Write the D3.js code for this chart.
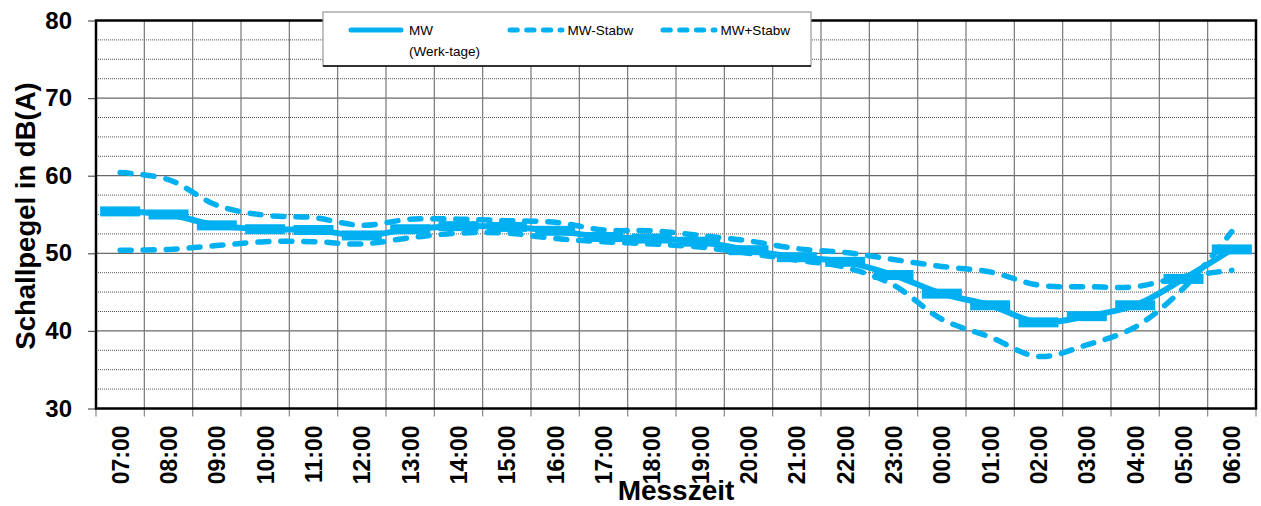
<!DOCTYPE html>
<html>
<head>
<meta charset="utf-8">
<script src="https://cdnjs.cloudflare.com/ajax/libs/d3/7.8.5/d3.min.js"></script>
<style>
  html, body { margin: 0; padding: 0; background: #fff; }
  svg { display: block; font-family: "Liberation Sans", Arial, sans-serif; }
</style>
</head>
<body>
<svg id="chart" width="1261" height="506"></svg>
<script>
// ---- data ----
const categories = ["07:00","08:00","09:00","10:00","11:00","12:00","13:00","14:00","15:00","16:00","17:00","18:00",
                    "19:00","20:00","21:00","22:00","23:00","00:00","01:00","02:00","03:00","04:00","05:00","06:00"];
const mw       = [55.4, 55.0, 53.6, 53.1, 53.0, 52.3, 53.1, 53.5, 53.4, 52.9, 52.1, 51.9,
                  51.5, 50.4, 49.5, 48.9, 47.2, 44.8, 43.3, 41.1, 41.9, 43.3, 46.7, 50.5];
const mwMinus  = [50.4, 50.5, 51.0, 51.5, 51.5, 51.2, 52.0, 52.6, 52.6, 51.9, 51.5, 51.2,
                  50.8, 50.0, 49.1, 48.2, 45.9, 41.5, 39.2, 36.7, 38.2, 40.5, 45.5, 52.8];
const mwPlus   = [60.4, 59.5, 56.2, 54.9, 54.6, 53.6, 54.4, 54.4, 54.2, 54.0, 53.0, 52.9,
                  52.3, 51.6, 50.6, 50.1, 49.2, 48.3, 47.6, 45.9, 45.7, 45.7, 47.0, 47.8];
const yMajorTicks = [30, 40, 50, 60, 70, 80];
const yMinorTicks = [32.5, 35, 37.5, 42.5, 45, 47.5, 52.5, 55, 57.5, 62.5, 65, 67.5, 72.5, 75, 77.5];
const legendLabels = ["MW", "(Werk-tage)", "MW-Stabw", "MW+Stabw"];
const yTitle = "Schallpegel in dB(A)";
const xTitle = "Messzeit";

// ---- layout ----
const color = "#00B0F0";
const L = 96, R = 1256, T = 20.5, B = 408.5;
const svg = d3.select("#chart");

const x = d3.scaleBand().domain(categories).range([L, R]).padding(0);
const y = d3.scaleLinear().domain([30, 80]).range([B, T]);
const cx = d => x(d) + x.bandwidth() / 2;

// band edges
const edges = categories.map(c => x(c)).concat([x(categories[categories.length - 1]) + x.bandwidth()]);

// minor horizontal grid (dotted)
svg.append("g").selectAll("line").data(yMinorTicks).join("line")
  .attr("x1", L).attr("x2", R).attr("y1", d => y(d)).attr("y2", d => y(d))
  .attr("stroke", "#555").attr("stroke-width", 1).attr("stroke-dasharray", "1,1");

// major horizontal grid
svg.append("g").selectAll("line").data(yMajorTicks.slice(1, -1)).join("line")
  .attr("x1", L).attr("x2", R).attr("y1", d => y(d)).attr("y2", d => y(d))
  .attr("stroke", "#444").attr("stroke-width", 1);

// vertical grid at band edges
svg.append("g").selectAll("line").data(edges.slice(1, -1)).join("line")
  .attr("x1", d => d).attr("x2", d => d).attr("y1", T).attr("y2", B)
  .attr("stroke", "#777").attr("stroke-width", 1.2);

// x tick marks at band edges
svg.append("g").selectAll("line").data(edges).join("line")
  .attr("x1", d => d).attr("x2", d => d).attr("y1", B).attr("y2", B + 8)
  .attr("stroke", "#888").attr("stroke-width", 1.2);

// y axis
const yAxis = svg.append("g").attr("transform", `translate(${L},0)`)
  .call(d3.axisLeft(y).tickValues(yMajorTicks).tickSize(8).tickPadding(16).tickFormat(d3.format("d")));
yAxis.select(".domain").remove();
yAxis.selectAll(".tick line").attr("stroke", "#555").attr("stroke-width", 1.2);
yAxis.selectAll(".tick text").attr("font-size", 24).attr("font-weight", "bold").attr("fill", "#000")
  .attr("font-family", "'Liberation Sans', Arial, sans-serif");

// x axis labels (rotated)
const xAxis = svg.append("g").attr("transform", `translate(0,${B})`)
  .call(d3.axisBottom(x).tickSize(0).tickPadding(0));
xAxis.select(".domain").remove();
xAxis.selectAll(".tick text")
  .attr("font-size", 23).attr("font-weight", "bold").attr("fill", "#000")
  .attr("font-family", "'Liberation Sans', Arial, sans-serif")
  .attr("text-anchor", "end")
  .attr("dy", null).attr("y", null)
  .attr("transform", "translate(8.5,17) rotate(-90)");

// plot frame
svg.append("rect").attr("x", L).attr("y", T).attr("width", R - L).attr("height", B - T)
  .attr("fill", "none").attr("stroke", "#000").attr("stroke-width", 2.5);

// series
const smooth = d3.curveCatmullRom.alpha(0.5);
const lineGen = d3.line().x((d, i) => cx(categories[i])).y(d => y(d)).curve(smooth);

svg.append("path").datum(mwMinus).attr("d", lineGen)
  .attr("fill", "none").attr("stroke", color).attr("stroke-width", 5.5)
  .attr("stroke-linecap", "round").attr("stroke-dasharray", "11,12");
svg.append("path").datum(mwPlus).attr("d", lineGen)
  .attr("fill", "none").attr("stroke", color).attr("stroke-width", 5.5)
  .attr("stroke-linecap", "round").attr("stroke-dasharray", "11,12");
svg.append("path").datum(mw).attr("d", lineGen)
  .attr("fill", "none").attr("stroke", color).attr("stroke-width", 6);
svg.append("g").selectAll("rect").data(mw).join("rect")
  .attr("x", (d, i) => cx(categories[i]) - 20).attr("y", d => y(d) - 5)
  .attr("width", 40).attr("height", 10).attr("fill", color);

// axis titles
svg.append("text").attr("transform", `translate(35,216) rotate(-90)`)
  .attr("text-anchor", "middle").attr("font-size", 27.5).attr("font-weight", "bold").text(yTitle);
svg.append("text").attr("x", 676).attr("y", 500)
  .attr("text-anchor", "middle").attr("font-size", 28).attr("font-weight", "bold").text(xTitle);

// legend
const lg = svg.append("g");
lg.append("rect").attr("x", 323).attr("y", 12).attr("width", 488).attr("height", 54)
  .attr("fill", "#fff").attr("stroke", "#999").attr("stroke-width", 1.2);
lg.append("line").attr("x1", 323).attr("x2", 811).attr("y1", 66).attr("y2", 66)
  .attr("stroke", "#000").attr("stroke-width", 1.5);
lg.append("line").attr("x1", 351).attr("x2", 401).attr("y1", 30).attr("y2", 30)
  .attr("stroke", color).attr("stroke-width", 5).attr("stroke-linecap", "round");
lg.append("line").attr("x1", 510).attr("x2", 562).attr("y1", 30).attr("y2", 30)
  .attr("stroke", color).attr("stroke-width", 5).attr("stroke-linecap", "round").attr("stroke-dasharray", "7.3,9.4");
lg.append("line").attr("x1", 663).attr("x2", 715).attr("y1", 30).attr("y2", 30)
  .attr("stroke", color).attr("stroke-width", 5).attr("stroke-linecap", "round").attr("stroke-dasharray", "7.3,9.4");
const lt = [[409, 35, legendLabels[0]], [409, 56, legendLabels[1]], [567.5, 35, legendLabels[2]], [720.5, 35, legendLabels[3]]];
lg.selectAll("text").data(lt).join("text")
  .attr("x", d => d[0]).attr("y", d => d[1]).attr("font-size", 13.5).attr("fill", "#000").text(d => d[2]);
</script>
</body>
</html>
